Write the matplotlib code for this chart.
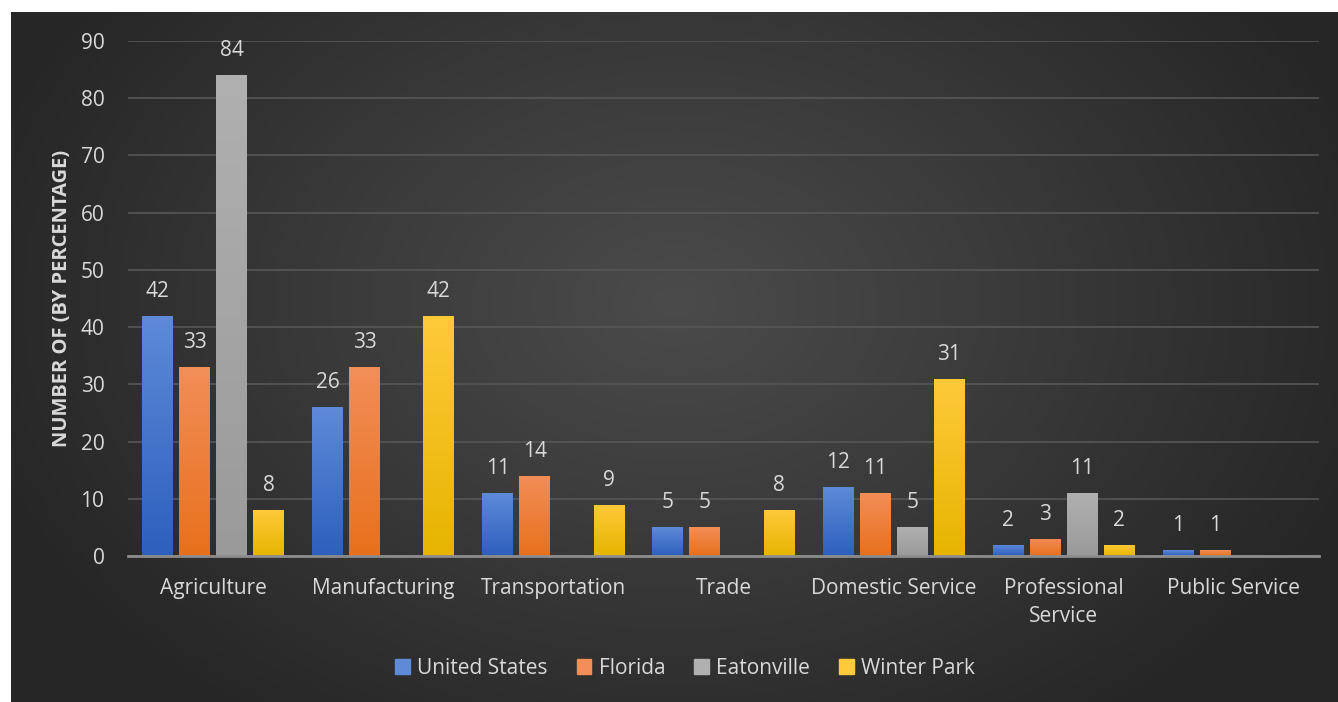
import numpy as np
import matplotlib.pyplot as plt
from matplotlib.colors import LinearSegmentedColormap

categories = ['Agriculture', 'Manufacturing', 'Transportation', 'Trade',
              'Domestic Service', 'Professional\nService', 'Public Service']
united_states = [42, 26, 11, 5, 12, 2, 1]
florida = [33, 33, 14, 5, 11, 3, 1]
eatonville = [84, np.nan, np.nan, np.nan, 5, 11, np.nan]
winter_park = [8, 42, 9, 8, 31, 2, np.nan]
series_names = ['United States', 'Florida', 'Eatonville', 'Winter Park']
yticks = [0, 10, 20, 30, 40, 50, 60, 70, 80, 90]

# (top colour, bottom colour) of each series' gradient
grads = [('#5e8ad8', '#2d5fbd'), ('#f28e58', '#e8701c'),
         ('#b0b0b0', '#9a9a9a'), ('#ffca3a', '#e6b400')]
txt = '#d9d9d9'
font = 'Open Sans'

fig = plt.figure(figsize=(13.38, 7.02), dpi=100)
fig.patch.set_facecolor('white')

# dark radial background
bg = fig.add_axes([11 / 1338, 0, 1 - 11 / 1338, 1 - 12 / 702])
bg.set_axis_off()
h, w = 345, 660
yy, xx = np.mgrid[0:h, 0:w]
r = np.sqrt(((xx - w * 0.5) / (w * 0.55)) ** 2 + ((yy - h * 0.42) / (h * 0.75)) ** 2)
r = np.clip(r, 0, 1)
bgcmap = LinearSegmentedColormap.from_list('bg', ['#4b4b4b', '#393939', '#262626'])
bg.imshow(r, cmap=bgcmap, aspect='auto', extent=[0, 1, 0, 1], vmin=0, vmax=1)
bg.set_xlim(0, 1)
bg.set_ylim(0, 1)

ax = fig.add_axes([128 / 1338, 1 - 556 / 702, (1319 - 128) / 1338, (556 - 41) / 702])
ax.patch.set_alpha(0)

x = np.arange(len(categories))
width = 0.182
step = 0.218
all_series = [united_states, florida, eatonville, winter_park]
grad_img = np.linspace(1, 0, 256).reshape(-1, 1)

for i, (vals, name) in enumerate(zip(all_series, series_names)):
    pos = x + (i - 1.5) * step
    top_c, bot_c = grads[i]
    cmap = LinearSegmentedColormap.from_list(name, [bot_c, top_c])
    bars = ax.bar(pos, vals, width, color=top_c, label=name, zorder=3)
    for b, v in zip(bars, vals):
        if np.isnan(v):
            continue
        bx, bw = b.get_x(), b.get_width()
        im = ax.imshow(grad_img, cmap=cmap, aspect='auto', zorder=3.5,
                       extent=[bx, bx + bw, 0, v], vmin=0, vmax=1)
        im.set_clip_path(b)
        ax.annotate(f'{v:g}', (bx + bw / 2, v), xytext=(0, 10),
                    textcoords='offset points', ha='center', va='bottom',
                    color=txt, fontsize=15, family=font)

ax.set_xlim(-0.5, len(categories) - 0.5)
ax.set_ylim(0, 90)
ax.set_yticks(yticks)
ax.set_xticks(x)
ax.set_xticklabels(categories, linespacing=1.45)
ax.grid(axis='y', color='#575757', linewidth=1.2, zorder=0)
for s in ['top', 'right', 'left']:
    ax.spines[s].set_visible(False)
ax.spines['bottom'].set_color('#8c8c8c')
ax.spines['bottom'].set_linewidth(2)
ax.spines['bottom'].set_zorder(4)
ax.tick_params(axis='both', length=0, colors=txt, labelsize=15)
ax.tick_params(axis='y', pad=17)
ax.tick_params(axis='x', pad=16)
for lab in ax.get_xticklabels() + ax.get_yticklabels():
    lab.set_family(font)
    lab.set_color(txt)
ax.set_ylabel('NUMBER OF (BY PERCENTAGE)', color=txt, fontsize=14.5,
              fontweight='bold', family=font, labelpad=6)

handles = [plt.Rectangle((0, 0), 1, 1, color=grads[i][0]) for i in range(4)]
leg = fig.legend(handles, series_names, loc='center', bbox_to_anchor=(0.512, 1 - 668 / 702),
                 ncol=4, frameon=False, handlelength=0.7, handleheight=0.7,
                 handletextpad=0.35, columnspacing=1.4,
                 prop={'family': font, 'size': 15})
for t in leg.get_texts():
    t.set_color(txt)

fig.savefig('out.png', dpi=100, facecolor=fig.get_facecolor())
